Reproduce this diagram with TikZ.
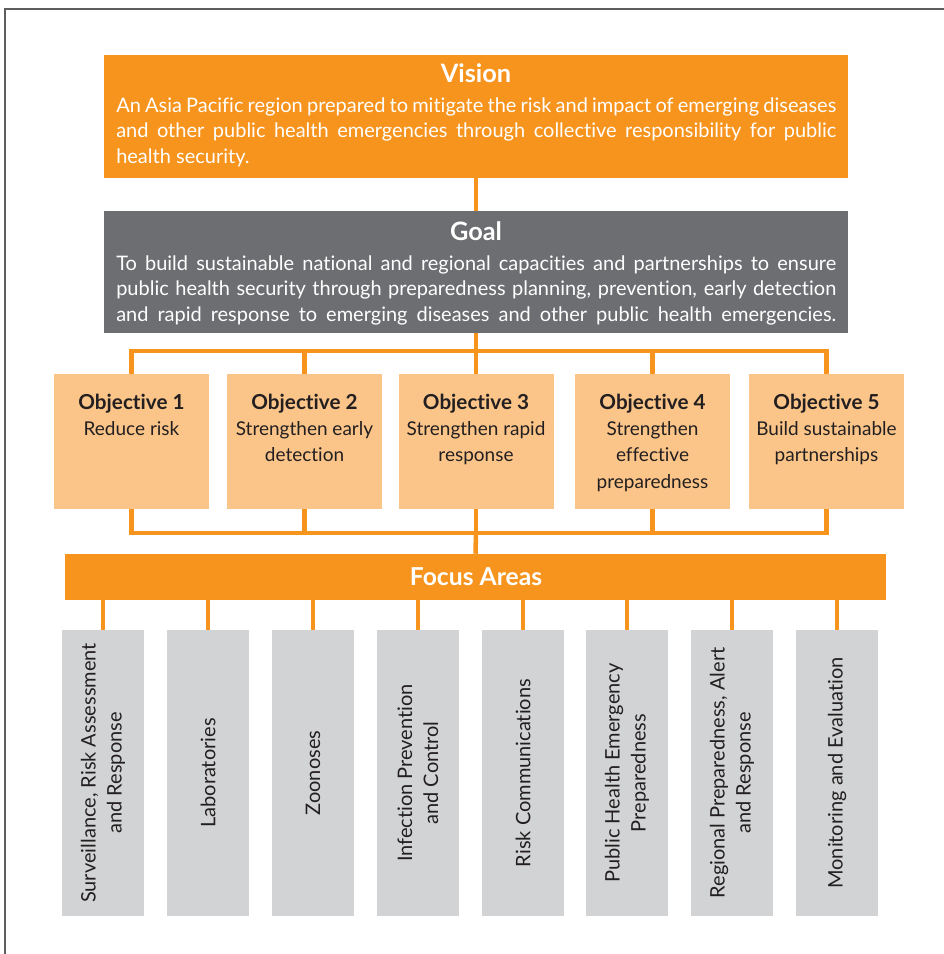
\documentclass[tikz,border=0pt]{standalone}
\usepackage{fontspec}
\setmainfont{Lato}[Ligatures=NoCommon]
\definecolor{aporange}{HTML}{F7941D}
\definecolor{aplight}{HTML}{FBC589}
\definecolor{apgoal}{HTML}{6D6E71}
\definecolor{apgray}{HTML}{D1D3D4}
\definecolor{aptext}{HTML}{231F20}
\definecolor{apframe}{HTML}{5E5E5E}
\newcommand\apjust[1]{\hbox to\hsize{#1}}
\newcommand\apleft[1]{\hbox to\hsize{#1\hfil}}
\newcommand\apcent[1]{\hbox to\hsize{\hfil#1\hfil}}
\tikzset{
  conn/.style={draw=aporange, line width=3.4pt, line join=miter},
  bigbox/.style={minimum width=558pt, minimum height=92pt, inner sep=0pt, draw=none},
  objbox/.style={fill=aplight, minimum width=116.25pt, minimum height=101.25pt, inner sep=0pt},
  areabox/.style={fill=apgray, minimum width=61.5pt, minimum height=214.5pt, inner sep=0pt},
  bodytext/.style={anchor=base west, inner sep=0pt, text=white, font=\fontsize{15}{19.2}\selectfont},
  titletext/.style={anchor=base, inner sep=0pt, text=white, font=\bfseries\fontsize{19}{22}\selectfont},
  objtext/.style={anchor=base, inner sep=0pt, text=aptext, font=\fontsize{14.25}{19.8}\selectfont},
  areatext/.style={rotate=90, align=center, inner sep=0pt, text=aptext, font=\fontsize{15}{19.5}\selectfont},
}
\newcommand\objtitle[1]{\apcent{\bfseries\fontsize{15.5}{19.8}\selectfont #1}}
\begin{document}
\begin{tikzpicture}[x=0.75pt,y=-0.75pt]
\useasboundingbox (0,0) rectangle (944,954);
\draw[apframe, line width=1.5pt] (5,954) -- (5,9) -- (944,9);

% Vision
\node[bigbox, fill=aporange, minimum height=92.25pt] (vision) at (476,116.5) {};
\node[titletext] (visiontitle) at (476,82) {Vision};
\node[bodytext] (visionbody) at (116,112) {\vtop{\hsize=540pt \baselineskip=19.2pt
  \apjust{An Asia Pacific region prepared to mitigate the risk and impact of emerging diseases}
  \apjust{and other public health emergencies through collective responsibility for public}
  \apleft{health security.}}};

% Goal
\node[bigbox, fill=apgoal, minimum height=91.5pt] (goal) at (476,272) {};
\node[titletext] (goaltitle) at (476,240) {Goal};
\node[bodytext] (goalbody) at (116,270) {\vtop{\hsize=540pt \baselineskip=19.2pt
  \apjust{To build sustainable national and regional capacities and partnerships to ensure}
  \apjust{public health security through preparedness planning, prevention, early detection}
  \apjust{and rapid response to emerging diseases and other public health emergencies.}}};

% Objectives
\node[objbox] (o1) at (131.5,441.5) {};
\node[objbox] (o2) at (304.5,441.5) {};
\node[objbox] (o3) at (476,441.5) {};
\node[objbox] (o4) at (652.5,441.5) {};
\node[objbox] (o5) at (826.5,441.5) {};
\node[objtext] (o1t) at (131.5,409) {\vtop{\hsize=150pt \baselineskip=19.8pt
  \objtitle{Objective 1}\apcent{Reduce risk}}};
\node[objtext] (o2t) at (304.5,409) {\vtop{\hsize=150pt \baselineskip=19.8pt
  \objtitle{Objective 2}\apcent{Strengthen early}\apcent{detection}}};
\node[objtext] (o3t) at (476,409) {\vtop{\hsize=150pt \baselineskip=19.8pt
  \objtitle{Objective 3}\apcent{Strengthen rapid}\apcent{response}}};
\node[objtext] (o4t) at (652.5,409) {\vtop{\hsize=150pt \baselineskip=19.8pt
  \objtitle{Objective 4}\apcent{Strengthen}\apcent{effective}\apcent{preparedness}}};
\node[objtext] (o5t) at (826.5,409) {\vtop{\hsize=150pt \baselineskip=19.8pt
  \objtitle{Objective 5}\apcent{Build sustainable}\apcent{partnerships}}};

% Focus areas bar
\node[fill=aporange, minimum width=615.75pt, minimum height=34.5pt, inner sep=0pt] (focus) at (475.5,577) {};
\node[anchor=base, inner sep=0pt, text=white, font=\bfseries\fontsize{18.5}{22}\selectfont] (focustitle) at (476,585) {Focus Areas};

% Area boxes
\foreach \n/\x in {1/103,2/208,3/313,4/418,5/523,6/627,7/732,8/837}{
  \node[areabox] (a\n) at (\x,773) {};
}
\node[areatext] (a1t) at (a1) {Surveillance, Risk Assessment\\and Response};
\node[areatext] (a2t) at (a2) {Laboratories};
\node[areatext] (a3t) at (a3) {Zoonoses};
\node[areatext] (a4t) at (a4) {Infection Prevention\\and Control};
\node[areatext] (a5t) at (a5) {Risk Communications};
\node[areatext] (a6t) at (a6) {Public Health Emergency\\Preparedness};
\node[areatext] (a7t) at (a7) {Regional Preparedness, Alert\\and Response};
\node[areatext] (a8t) at (a8) {Monitoring and Evaluation};

% Connectors
\coordinate (topbar) at (476,351);
\coordinate (botbar) at (476,533);
\draw[conn] (vision.south) -- (goal.north);
\draw[conn] (goal.south) -- (topbar);
\draw[conn] (o1.north) -- (o1.north |- topbar) -- (o5.north |- topbar) -- (o5.north);
\draw[conn] (o2.north) -- (o2.north |- topbar);
\draw[conn] (o3.north) -- (o3.north |- topbar);
\draw[conn] (o4.north) -- (o4.north |- topbar);
\draw[conn] (o1.south) -- (o1.south |- botbar) -- (o5.south |- botbar) -- (o5.south);
\draw[conn] (o2.south) -- (o2.south |- botbar);
\draw[conn] (o3.south) -- (o3.south |- botbar);
\draw[conn] (o4.south) -- (o4.south |- botbar);
\draw[conn] (botbar) -- (focus.north);
\foreach \n in {1,...,8}{
  \draw[conn] (a\n.north) -- (a\n.north |- focus.south);
}
\end{tikzpicture}
\end{document}
